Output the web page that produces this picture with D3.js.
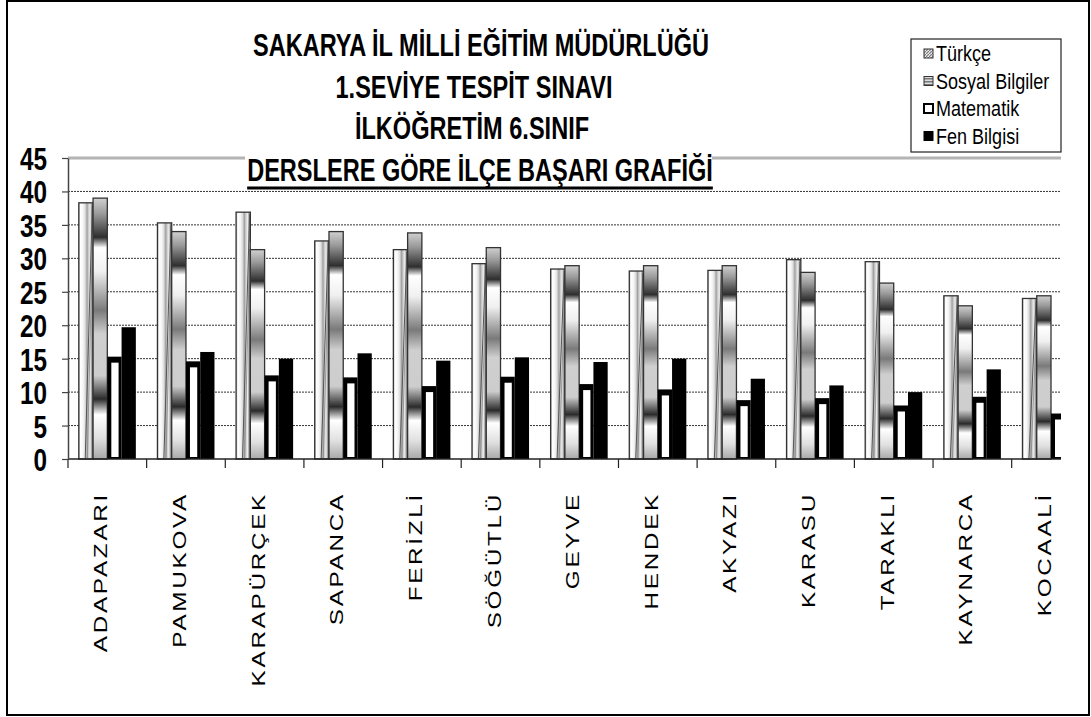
<!DOCTYPE html>
<html lang="tr">
<head>
<meta charset="utf-8">
<script src="https://cdn.jsdelivr.net/npm/d3@7"></script>
<style>
  body { margin:0; background:#fff; }
  svg { display:block; }
  .narrow { font-family:"Liberation Sans Narrow","Arial Narrow","Liberation Sans",sans-serif; font-weight:bold; }
</style>
</head>
<body>
<script>
// ilçeler ve ders ortalamaları
var districts = ["ADAPAZARI","PAMUKOVA","KARAPÜRÇEK","SAPANCA","FERİZLİ","SÖĞÜTLÜ","GEYVE","HENDEK","AKYAZI","KARASU","TARAKLI","KAYNARCA","KOCAALİ"];
var subjects = ["Türkçe","Sosyal Bilgiler","Matematik","Fen Bilgisi"];
var turkce    = [38.3, 35.3, 36.9, 32.6, 31.3, 29.2, 28.4, 28.1, 28.2, 29.8, 29.5, 24.4, 24.0];
var sosyal    = [39.0, 34.0, 31.3, 34.0, 33.8, 31.6, 28.9, 28.9, 28.9, 27.9, 26.3, 22.9, 24.4];
var matematik = [15.3, 14.6, 12.5, 12.2, 10.9, 12.3, 11.2, 10.4, 8.8, 9.1, 8.0, 9.3, 6.8];
var fen       = [19.7, 16.0, 15.0, 15.8, 14.7, 15.2, 14.5, 15.0, 12.0, 11.0, 10.0, 13.4, 6.5];
var yTicks = [0,5,10,15,20,25,30,35,40,45];
var titleLines = ["SAKARYA İL MİLLİ EĞİTİM MÜDÜRLÜĞÜ","1.SEVİYE TESPİT SINAVI","İLKÖĞRETİM 6.SINIF","DERSLERE GÖRE İLÇE BAŞARI GRAFİĞİ"];

var W = 1091, H = 717;
var svg = d3.select("body").append("svg").attr("width", W).attr("height", H);
var defs = svg.append("defs");

// türkçe: yatay parlak gradyan
var gT = defs.append("linearGradient").attr("id","gT").attr("x1",0).attr("x2",1).attr("y1",0).attr("y2",0);
[[0,"#b5b5b5"],[0.12,"#ffffff"],[0.3,"#f6f6f6"],[0.45,"#dcdcdc"],[0.58,"#a0a0a0"],[0.68,"#cccccc"],[0.8,"#ececec"],[0.92,"#909090"],[1,"#b4b4b4"]]
  .forEach(function(s){ gT.append("stop").attr("offset",s[0]).attr("stop-color",s[1]); });
// sosyal: dikey bantlı gradyan
var gS = defs.append("linearGradient").attr("id","gS").attr("x1",0).attr("x2",0).attr("y1",0).attr("y2",1);
[[0,"#d0d0d0"],[0.06,"#9a9a9a"],[0.15,"#2e2e2e"],[0.19,"#ffffff"],[0.28,"#f0f0f0"],[0.43,"#7a7a7a"],[0.52,"#cfcfcf"],[0.68,"#cdcdcd"],[0.77,"#2a2a2a"],[0.83,"#ffffff"],[0.92,"#e0e0e0"],[1,"#a8a8a8"]]
  .forEach(function(s){ gS.append("stop").attr("offset",s[0]).attr("stop-color",s[1]); });
var gSL = defs.append("pattern").attr("id","gSL").attr("width",3).attr("height",3).attr("patternUnits","userSpaceOnUse");
gSL.append("rect").attr("width",3).attr("height",3).attr("fill","#ddd");
gSL.append("rect").attr("width",3).attr("height",1.5).attr("fill","#777");
var gTL = defs.append("pattern").attr("id","gTL").attr("width",3).attr("height",3).attr("patternUnits","userSpaceOnUse");
gTL.append("rect").attr("width",3).attr("height",3).attr("fill","#eee");
gTL.append("path").attr("d","M0,3L3,0").attr("stroke","#777").attr("stroke-width",1.2);

defs.append("clipPath").attr("id","plotClip").append("rect")
  .attr("x",0).attr("y",0).attr("width",1061).attr("height",H);

// dış çerçeve
svg.append("rect").attr("x",7).attr("y",1).attr("width",1082).attr("height",714)
  .attr("fill","#fff").attr("stroke","#000").attr("stroke-width",2);

var x0 = 68, band = 78.64;
var x = d3.scaleBand().domain(districts).range([x0, x0 + band*districts.length]);
var xs = d3.scaleBand().domain(subjects).range([10.8, band-10.8]);
var y = d3.scaleLinear().domain([0,45]).range([459,158]);

var plot = svg.append("g").attr("clip-path","url(#plotClip)");

// yatay kılavuz çizgileri
plot.selectAll("line.grid").data(yTicks.filter(function(t){ return t>0 && t<45; })).enter()
  .append("line").attr("class","grid")
  .attr("x1",x0).attr("x2",1061).attr("y1",function(d){return y(d);}).attr("y2",function(d){return y(d);})
  .attr("stroke","#333").attr("stroke-width",1).attr("stroke-dasharray","2,1");
plot.append("line").attr("x1",x0).attr("x2",1062).attr("y1",y(45)).attr("y2",y(45))
  .attr("stroke","#b4b4b4").attr("stroke-width",3);

var rows = districts.map(function(d,i){
  return {name:d, vals:[turkce[i], sosyal[i], matematik[i], fen[i]]};
});

var groups = plot.selectAll("g.grp").data(rows).enter().append("g")
  .attr("transform", function(d){ return "translate(" + x(d.name) + ",0)"; });

var bw = xs.bandwidth();
groups.each(function(d){
  var g = d3.select(this);
  // Türkçe
  var tx = xs(subjects[0]), ty = y(d.vals[0]);
  g.append("rect").attr("x",tx).attr("y",ty).attr("width",bw).attr("height",y(0)-ty)
    .attr("fill","url(#gT)").attr("stroke","#333").attr("stroke-width",1.3);
  g.append("line").attr("x1",tx+bw*0.45).attr("y1",y(0)).attr("x2",tx+bw*0.95).attr("y2",ty+2)
    .attr("stroke","#555").attr("stroke-width",1);
  g.append("line").attr("x1",tx+bw*0.6).attr("y1",y(0)).attr("x2",tx+bw*0.97).attr("y2",ty+30)
    .attr("stroke","#888").attr("stroke-width",0.8);
  // Sosyal
  var sx = xs(subjects[1]), sy = y(d.vals[1]);
  g.append("rect").attr("x",sx).attr("y",sy).attr("width",bw).attr("height",y(0)-sy)
    .attr("fill","url(#gS)").attr("stroke","#333").attr("stroke-width",1.3);
  // Matematik
  var mx = xs(subjects[2]), my = y(d.vals[2]);
  g.append("rect").attr("x",mx).attr("y",my).attr("width",bw).attr("height",y(0)-my).attr("fill","#000");
  g.append("rect").attr("x",mx+4).attr("y",my+6).attr("width",bw-7).attr("height",y(0)-my-8).attr("fill","#fff");
  // Fen
  var fx = xs(subjects[3]), fy = y(d.vals[3]);
  g.append("rect").attr("x",fx).attr("y",fy).attr("width",bw).attr("height",y(0)-fy).attr("fill","#000");
});

// eksenler
plot.append("line").attr("x1",x0).attr("x2",1061).attr("y1",y(0)).attr("y2",y(0)).attr("stroke","#222").attr("stroke-width",1.5);
var bounds = districts.map(function(d){ return x(d); });
plot.selectAll("line.xt").data(bounds).enter().append("line")
  .attr("x1",function(d){return d;}).attr("x2",function(d){return d;})
  .attr("y1",y(0)).attr("y2",y(0)+9).attr("stroke","#222").attr("stroke-width",1.2);

var yAxis = svg.append("g").attr("transform","translate(" + x0 + ",0)")
  .call(d3.axisLeft(y).tickValues(yTicks).tickSize(6).tickPadding(17).tickSizeOuter(0));
yAxis.select(".domain").attr("stroke","#444").attr("stroke-width",1.5);
yAxis.selectAll(".tick line").attr("stroke","#444").attr("stroke-width",1.2);
yAxis.selectAll(".tick text").remove();
yAxis.selectAll(".tick").append("g").attr("transform","translate(-21,0) scale(0.76,1)")
  .append("text").attr("class","narrow").attr("font-size",32).attr("fill","#000")
  .attr("text-anchor","end").attr("dy","0.36em")
  .text(function(d){ return d; });

// ilçe adları
svg.selectAll("text.xl").data(districts).enter().append("text")
  .attr("transform", function(d){ return "translate(" + (x(d) + x.bandwidth()/2) + ",492) rotate(-90) scale(1.35,1)"; })
  .attr("text-anchor","end").attr("letter-spacing",2)
  .attr("font-family","'Liberation Sans',Arial,sans-serif").attr("font-size",18).attr("fill","#000")
  .text(function(d){ return d; });

// başlık
svg.append("rect").attr("x",245).attr("y",28).attr("width",467).attr("height",160).attr("fill","#fff");
var tY = [56, 98, 139, 181], tX = [481, 474, 472, 480], tS = 0.76;
var tt = svg.selectAll("g.title").data(titleLines).enter().append("g")
  .attr("transform", function(d,i){ return "translate(" + tX[i] + "," + tY[i] + ") scale(" + tS + ",1)"; })
  .append("text").attr("class","narrow").attr("text-anchor","middle").attr("font-size",31).attr("fill","#000")
  .text(function(d){ return d; });
var lw = tt.nodes()[3].getComputedTextLength() * tS;
svg.append("line").attr("x1",tX[3]-lw/2).attr("x2",tX[3]+lw/2).attr("y1",188).attr("y2",188)
  .attr("stroke","#000").attr("stroke-width",3);

// lejant
var lg = svg.append("g").attr("transform","translate(911,39)");
lg.append("rect").attr("width",150).attr("height",113).attr("fill","#fff").attr("stroke","#222").attr("stroke-width",1.2);
var sw = [
  function(s){ s.attr("fill","url(#gTL)").attr("stroke","#333").attr("stroke-width",1); },
  function(s){ s.attr("fill","url(#gSL)").attr("stroke","#333").attr("stroke-width",1); },
  function(s){ s.attr("fill","#fff").attr("stroke","#000").attr("stroke-width",2); },
  function(s){ s.attr("fill","#000").attr("stroke","#000").attr("stroke-width",1); }
];
subjects.forEach(function(s,i){
  var cy = 15 + i*27.5;
  lg.append("rect").attr("x",13).attr("y",cy-5).attr("width",9).attr("height",9).call(sw[i]);
  lg.append("g").attr("transform","translate(25," + (cy+7) + ") scale(0.82,1)")
    .append("text").attr("font-family","'Liberation Sans',Arial,sans-serif")
    .attr("font-size",22).attr("fill","#000").text(s);
});
</script>
</body>
</html>
